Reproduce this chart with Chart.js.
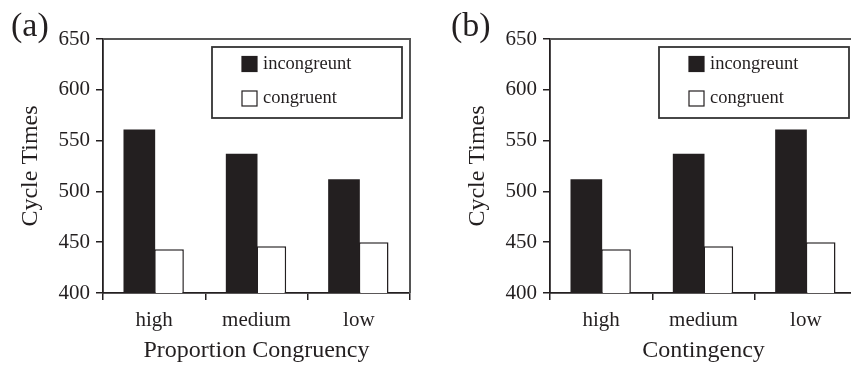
<!DOCTYPE html>
<html>
<head>
<meta charset="utf-8">
<script src="https://cdn.jsdelivr.net/npm/chart.js@4.4.1/dist/chart.umd.min.js"></script>
<style>
  html, body { margin: 0; padding: 0; background: #fff; overflow: hidden; }
  #wrap { position: relative; width: 851px; height: 365px; overflow: hidden; }
  .panel { position: absolute; top: 0; width: 430px; height: 365px; }
</style>
</head>
<body>
<div id="wrap">
  <div class="panel" style="left:0px"><canvas id="chartA"></canvas></div>
  <div class="panel" style="left:447px"><canvas id="chartB"></canvas></div>
</div>
<script>
const categories = ["high", "medium", "low"];
const seriesNames = ["incongreunt", "congruent"];
const incongruentA = [560, 536, 511];
const congruentA = [443, 446, 450];
const incongruentB = [511, 536, 560];
const congruentB = [443, 446, 450];
const yMin = 400, yMax = 650, yStep = 50;
const panelLabels = ["(a)", "(b)"];
const xTitles = ["Proportion Congruency", "Contingency"];
const yTitle = "Cycle Times";

const INK = "#231f20";
const SERIF = "'Liberation Serif', 'Times New Roman', serif";

const framePlugin = {
  id: "frame",
  afterDraw(chart, args, opts) {
    const ctx = chart.ctx, a = chart.chartArea;
    ctx.save();
    ctx.strokeStyle = "#555";
    ctx.lineWidth = 2;
    ctx.beginPath();
    ctx.moveTo(a.left, a.top);
    ctx.lineTo(a.right, a.top);
    ctx.lineTo(a.right, a.bottom);
    ctx.stroke();
    const bx = a.left + 109, by = 47, bw = 190, bh = 71;
    ctx.fillStyle = "#fff";
    ctx.fillRect(bx, by, bw, bh);
    ctx.strokeStyle = "#333";
    ctx.lineWidth = 1.8;
    ctx.strokeRect(bx, by, bw, bh);
    const rows = [64, 98.5];
    chart.data.datasets.forEach((ds, i) => {
      const sx = bx + 30, sy = rows[i] - 7.5;
      ctx.fillStyle = ds.backgroundColor;
      ctx.fillRect(sx, sy, 15, 15);
      ctx.strokeStyle = INK;
      ctx.lineWidth = 1.2;
      ctx.strokeRect(sx, sy, 15, 15);
      ctx.fillStyle = INK;
      ctx.font = "18.5px " + SERIF;
      ctx.textBaseline = "middle";
      ctx.textAlign = "left";
      ctx.fillText(ds.label, bx + 51, rows[i]);
    });
    ctx.font = "34px " + SERIF;
    ctx.fillStyle = INK;
    ctx.textBaseline = "middle";
    ctx.textAlign = "left";
    ctx.fillText(opts.label, opts.lx, 27);
    ctx.restore();
  }
};

function makeChart(id, inc, con, xTitle, label, lx) {
  return new Chart(document.getElementById(id), {
    type: "bar",
    data: {
      labels: categories,
      datasets: [
        { label: seriesNames[0], data: inc, backgroundColor: INK, borderColor: INK, borderWidth: 0, inflateAmount: 1 },
        { label: seriesNames[1], data: con, backgroundColor: "#ffffff", borderColor: INK, borderWidth: 1.5, inflateAmount: 0 }
      ]
    },
    options: {
      responsive: true,
      maintainAspectRatio: false,
      animation: false,
      devicePixelRatio: 1,
      datasets: { bar: { categoryPercentage: 0.58, barPercentage: 1.0 } },
      layout: { padding: { top: 39, right: 20, left: 0, bottom: 0 } },
      plugins: {
        legend: { display: false },
        tooltip: { enabled: false },
        frame: { label: label, lx: lx }
      },
      scales: {
        x: {
          afterFit(s) { s.height = 72; },
          grid: { display: true, drawOnChartArea: false, drawTicks: true, tickLength: 7, color: INK, lineWidth: 1.5, offset: true },
          border: { display: true, color: INK, width: 1.8 },
          ticks: { color: INK, font: { family: SERIF, size: 21 }, padding: 8 },
          title: { display: true, text: xTitle, color: INK, font: { family: SERIF, size: 24 }, padding: { top: 0, bottom: 0 } }
        },
        y: {
          min: yMin, max: yMax,
          afterFit(s) { s.width = 103; },
          grid: { display: true, drawOnChartArea: false, drawTicks: true, tickLength: 7, color: INK, lineWidth: 1.5 },
          border: { display: true, color: INK, width: 1.8 },
          ticks: { stepSize: yStep, color: INK, font: { family: SERIF, size: 21 }, padding: 6 },
          title: { display: true, text: yTitle, color: INK, font: { family: SERIF, size: 24 }, padding: { top: 16, bottom: 0 } }
        }
      }
    },
    plugins: [framePlugin]
  });
}

makeChart("chartA", incongruentA, congruentA, xTitles[0], panelLabels[0], 11);
makeChart("chartB", incongruentB, congruentB, xTitles[1], panelLabels[1], 4);
</script>
</body>
</html>
